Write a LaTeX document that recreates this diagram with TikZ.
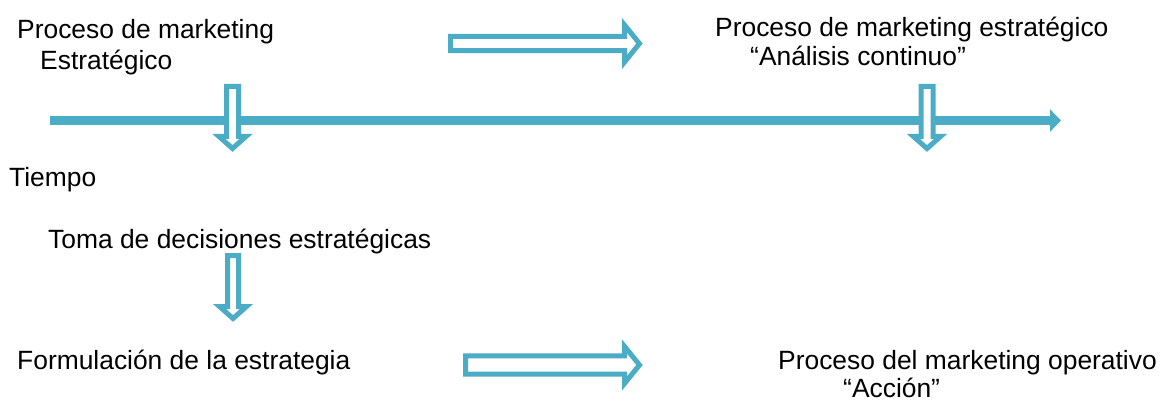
\documentclass[tikz,border=0pt]{standalone}
\usepackage{fontspec}
\setmainfont{Liberation Sans}
\usetikzlibrary{arrows.meta}
\definecolor{aqua}{HTML}{4BACC6}
\newcommand\rblock[6]{% tail x, tip x, centre y, shaft half, head half, head length
  \draw[blk] (#1,#3-#4) -- (#2-#6,#3-#4) -- (#2-#6,#3-#5) -- (#2,#3)
    -- (#2-#6,#3+#5) -- (#2-#6,#3+#4) -- (#1,#3+#4) -- cycle;}
\newcommand\dblock[6]{% centre x, top y, tip y, shaft half, head half, head length
  \draw[blk] (#1-#4,#2) -- (#1-#4,#3-#6) -- (#1-#5,#3-#6) -- (#1,#3)
    -- (#1+#5,#3-#6) -- (#1+#4,#3-#6) -- (#1+#4,#2) -- cycle;}
\tikzset{
  blk/.style={draw=aqua, fill=white, line width=5pt, line join=miter},
  lbl/.style={anchor=base west, inner sep=0pt, font=\fontsize{26.4}{30}\selectfont, text=black},
  timeline/.style={draw=aqua, line width=9.5pt, -{Triangle[length=11pt,width=22pt]}}
}
\begin{document}
\begin{tikzpicture}[x=1pt,y=-1pt]
\useasboundingbox (0,0) rectangle (1162,401);
% timeline
\coordinate (tstart) at (50,120.5);
\coordinate (tend) at (1061,120.5);
\draw[timeline] (tstart) -- (tend);
% block arrows
\rblock{450.5}{639.5}{43.5}{7.2}{18.5}{15}
\rblock{465.5}{639.5}{365}{9.2}{18.5}{15}
\dblock{232.5}{86.5}{148.5}{6}{13.5}{12}
\dblock{927}{86.5}{148.5}{6}{13.5}{12}
\dblock{233}{255.5}{318.5}{5.5}{13.5}{12}
% labels
\node[lbl] (p1a) at (17,39) {Proceso de marketing};
\node[lbl] (p1b) at (40,70) {Estratégico};
\node[lbl] (p2a) at (715,37) {Proceso de marketing estratégico};
\node[lbl] (p2b) at (750,66) {“Análisis continuo”};
\node[lbl] (tiempo) at (9,186) {Tiempo};
\node[lbl] (toma) at (48,248) {Toma de decisiones estratégicas};
\node[lbl] (form) at (17,369) {Formulación de la estrategia};
\node[lbl] (p3a) at (778,369) {Proceso del marketing operativo};
\node[lbl] (p3b) at (843,397) {“Acción”};
\end{tikzpicture}
\end{document}
